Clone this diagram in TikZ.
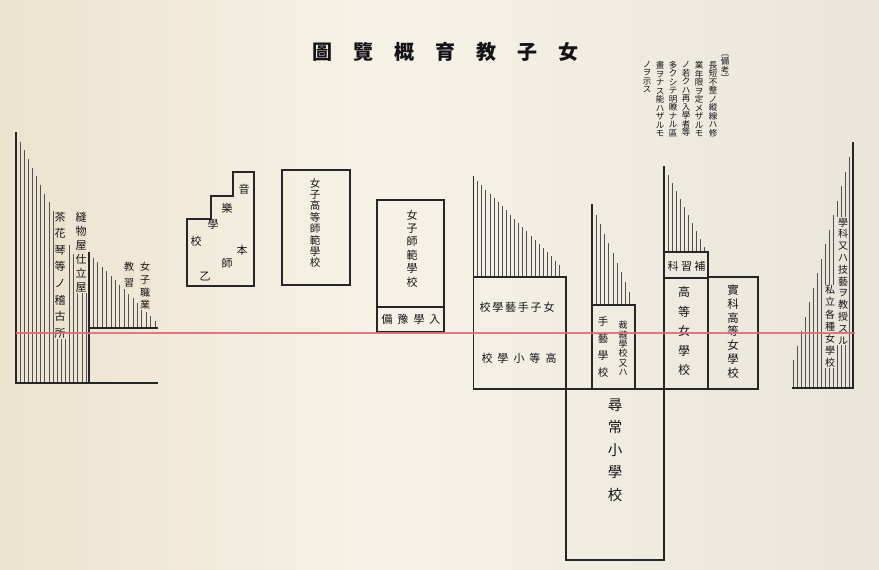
\documentclass[tikz,border=0pt]{standalone}
\usepackage{fontspec}
\newfontfamily\cjk{Noto Sans CJK JP}
\definecolor{paperA}{RGB}{236,227,207}
\definecolor{paperB}{RGB}{246,242,231}
\definecolor{paperC}{RGB}{233,229,219}
\definecolor{ink}{RGB}{38,38,40}
\definecolor{tink}{RGB}{20,20,24}
\definecolor{redline}{RGB}{222,108,118}
\lineskiplimit=-50pt
\lineskip=0pt
\tikzset{
  box/.style={draw=ink, line width=1.4pt, line cap=rect},
  hatch/.style={draw=ink!80, line width=0.8pt},
  lbl/.style={text=tink, inner sep=0pt, align=center},
  vt/.style 2 args={lbl, font=\cjk\fontsize{#1}{#2}\selectfont},
  ht/.style={lbl, font=\cjk\fontsize{#1}{#1}\selectfont},
}
\begin{document}
\begin{tikzpicture}[x=1pt,y=-1pt]
\useasboundingbox (0,0) rectangle (879,570);
\shade[left color=paperA, right color=paperB] (0,0) rectangle (380,570);
\shade[left color=paperB, right color=paperC] (380,0) rectangle (879,570);

% title
\node[ht=20, font=\cjk\bfseries\fontsize{20}{20}\selectfont] (title) at (445.5,52)
  {圖\kern21pt 覽\kern21pt 概\kern21pt 育\kern21pt 教\kern21pt 子\kern21pt 女};

% remarks
\node[vt={8.5}{8.5}] (bk0) at (725,68.5) {︹\\備\\考\\︺};
\node[vt={8.5}{8.5}] (bk1) at (713,99) {長\\短\\不\\整\\ノ\\縱\\線\\ハ\\修};
\node[vt={8.5}{8.5}] (bk2) at (699,99) {業\\年\\限\\ヲ\\定\\メ\\ザ\\ル\\モ};
\node[vt={8.5}{8.5}] (bk3) at (686,99) {ノ\\若\\ク\\ハ\\再\\入\\學\\者\\等};
\node[vt={8.5}{8.5}] (bk4) at (673,99) {多\\ク\\シ\\テ\\明\\瞭\\ナ\\ル\\區};
\node[vt={8.5}{8.5}] (bk5) at (660,99) {畫\\ヲ\\ナ\\ス\\能\\ハ\\ザ\\ル\\モ};
\node[vt={8.5}{8.5}] (bk6) at (647,76.8) {ノ\\ヲ\\示\\ス};

% ---- left hatched region
\foreach \i in {1,...,17} {
  \pgfmathsetmacro\xx{16+\i*4.12}
  \pgfmathsetmacro\tt{133+(\xx-16)*2.1}
  \draw[hatch] (\xx,\tt) -- (\xx,383);
}
\foreach \i in {1,...,15} {
  \pgfmathsetmacro\xx{89+\i*4.4}
  \pgfmathsetmacro\tt{253+(\xx-89)*1.03}
  \draw[hatch] (\xx,\tt) -- (\xx,328);
}
\draw[box] (16,133) -- (16,383) -- (157,383);
\draw[box] (89,253) -- (89,383);
\draw[box] (91,328) -- (157,328);

\node[vt={11}{16.6}, fill=paperA, inner sep=0.6pt] (chaka) at (60,275) {茶\\花\\琴\\等\\ノ\\稽\\古\\所};
\node[vt={11}{14}, fill=paperA, inner sep=0.6pt] (nuimono) at (81,252) {縫\\物\\屋\\仕\\立\\屋};
\node[vt={10}{12.7}, fill=paperA, inner sep=0.6pt] (shokugyo) at (145,286) {女\\子\\職\\業};
\node[vt={10}{16}, fill=paperA, inner sep=0.6pt] (kyoshu) at (129,275) {教\\習};

% ---- music school
\draw[box] (187,286) -- (187,219) -- (211,219) -- (211,196) -- (233,196)
  -- (233,172) -- (254,172) -- (254,286) -- cycle;
\node[ht=11] (m1) at (244,189) {音};
\node[ht=11] (m2) at (227,208) {樂};
\node[ht=11] (m3) at (213,224) {學};
\node[ht=11] (m4) at (196,241) {校};
\node[ht=11] (m5) at (242,250) {本};
\node[ht=11] (m6) at (227,263) {師};
\node[ht=11] (m7) at (205,277) {乙};

% ---- higher normal school
\draw[box] (282,170) rectangle (350,285);
\node[vt={10.5}{11.4}] (koshi) at (315,223) {女\\子\\高\\等\\師\\範\\學\\校};

% ---- normal school
\draw[box] (377,200) rectangle (444,332);
\draw[box] (377,307) -- (444,307);
\node[vt={11}{13.4}] (shihan) at (412,248.5) {女\\子\\師\\範\\學\\校};
\node[ht=11] (yobi) at (411,319) {備\kern5pt 豫\kern5pt 學\kern5pt 入};

% ---- higher elementary / handicraft
\foreach \i in {1,...,21} {
  \pgfmathsetmacro\xx{473.5+\i*4.1}
  \pgfmathsetmacro\tt{177+(\xx-473.5)*1.02}
  \draw[hatch] (\xx,\tt) -- (\xx,277);
}
\draw[box] (473.5,177) -- (473.5,389) -- (758,389);
\draw[box] (473.5,277) -- (566,277) -- (566,560) -- (664,560);
\node[ht=11] (shugei) at (517,307) {校\kern1.8pt 學\kern1.8pt 藝\kern1.8pt 手\kern1.8pt 子\kern1.8pt 女};
\node[ht=11] (koto) at (519,358) {校\kern5pt 學\kern5pt 小\kern5pt 等\kern5pt 高};

% ---- sewing school
\foreach \i in {1,...,9} {
  \pgfmathsetmacro\xx{592+\i*4.2}
  \pgfmathsetmacro\tt{205+(\xx-592)*2.29}
  \draw[hatch] (\xx,\tt) -- (\xx,305);
}
\draw[box] (592,205) -- (592,389);
\draw[box] (592,305) -- (635,305) -- (635,389);
\node[vt={10.5}{16.7}] (shugei2) at (603,347) {手\\藝\\學\\校};
\node[vt={9}{9.4}] (saiho) at (623,348.5) {裁\\縫\\學\\校\\又\\ハ};

% ---- ordinary elementary
\node[vt={14.5}{22.5}] (jinjo) at (615,450) {尋\\常\\小\\學\\校};

% ---- girls' high school
\foreach \i in {1,...,10} {
  \pgfmathsetmacro\xx{664+\i*4.05}
  \pgfmathsetmacro\tt{167+(\xx-664)*1.97}
  \draw[hatch] (\xx,\tt) -- (\xx,252);
}
\draw[box] (664,167) -- (664,560);
\draw[box] (664,252) -- (708,252) -- (708,389);
\draw[box] (664,278) -- (708,278);
\node[ht=11] (hoshu) at (686.5,266) {科\kern2.5pt 習\kern2.5pt 補};
\node[vt={12}{19.5}] (kojo) at (684,331) {高\\等\\女\\學\\校};

% ---- practical girls' high school
\draw[box] (708,277) -- (758,277) -- (758,389);
\node[vt={11.5}{13.8}] (jikka) at (733,331.5) {實\\科\\高\\等\\女\\學\\校};

% ---- right hatched region
\foreach \i in {1,...,15} {
  \pgfmathsetmacro\xx{853-\i*4}
  \pgfmathsetmacro\tt{143+(853-\xx)*3.62}
  \draw[hatch] (\xx,\tt) -- (\xx,388);
}
\draw[box] (853,143) -- (853,388) -- (793,388);
\node[vt={10}{11.8}, fill=paperC, inner sep=0.6pt] (gakka) at (843,281) {學\\科\\又\\ハ\\技\\藝\\ヲ\\教\\授\\ス\\ル};
\node[vt={10}{12.2}, fill=paperC, inner sep=0.6pt] (shiritsu) at (830,326.5) {私\\立\\各\\種\\女\\學\\校};

% ---- red line
\coordinate (rl) at (16,333);
\coordinate (rr) at (855,333);
\draw[redline, line width=2.6pt, opacity=0.9] (rl) -- (rr);
\end{tikzpicture}
\end{document}
